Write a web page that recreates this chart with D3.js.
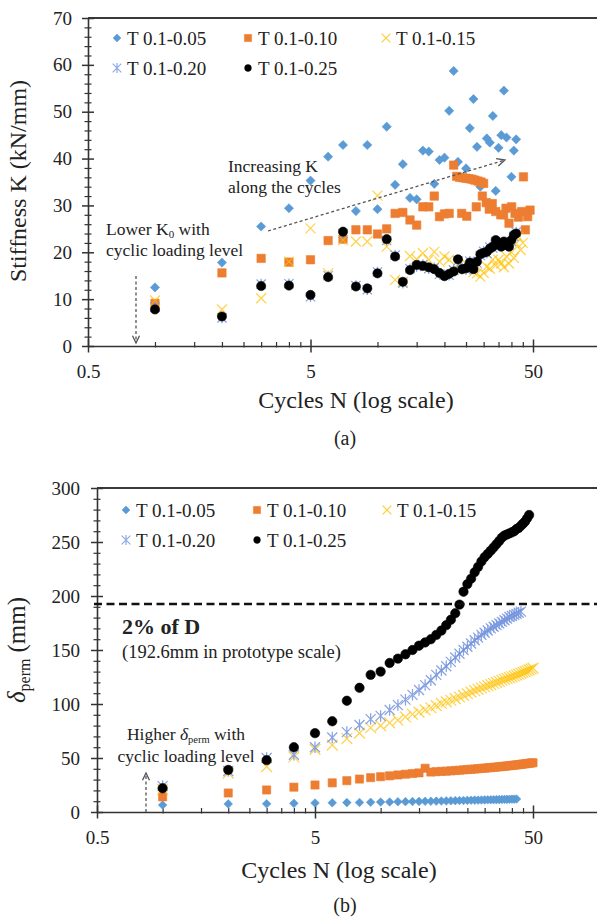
<!DOCTYPE html>
<html>
<head>
<meta charset="utf-8">
<script src="https://cdn.jsdelivr.net/npm/d3@7"></script>
<style>
  body { margin: 0; background: #fff; }
  svg { display: block; }
  text { font-family: "Liberation Serif", "Times New Roman", serif; fill: #222; }
</style>
</head>
<body>
<svg id="chart" width="597" height="921"></svg>
<script>
// ---------- data ----------
const seriesNames = ["T 0.1-0.05", "T 0.1-0.10", "T 0.1-0.15", "T 0.1-0.20", "T 0.1-0.25"];
const xTickValues = [0.5, 5, 50];

// (a) stiffness K (kN/mm) against cycle number
const kCycles005 = [1,2,3,4,5,6,7,8,9,10,11,12,13,14,15,16,17,18,19,20,21,22,23,25,26,27,28,29,31,32,33,34,35,36,37,38,40,41,42];
const kValues005 = [12.5,17.8,25.5,29.4,35.3,40.4,42.9,28.8,42.9,29.2,46.8,34.4,38.8,31.6,31.3,41.7,41.5,34.6,39.7,40.2,50.2,58.7,39.3,37.9,46.5,52.7,42.5,34.0,44.3,43.4,49.1,33.1,42.3,45.0,54.5,44.5,36.1,41.7,44.1];
const kCycles010 = [1,2,3,4,5,6,7,8,9,10,11,12,13,14,15,16,17,18,19,20,21,22,22.7,23.4,23.9,24.2,25,25.2,25.8,26.6,27.4,27.8,28.3,29.2,29.6,30,30.8,31.8,32.8,34,35.8,36.9,37.8,39,40.1,41.5,43,44.5,45.3,46.2,47.3,48.5];
const kValues010 = [9.1,15.6,18.7,17.9,18.4,22.5,22.8,24.8,24.8,23.9,25.0,28.3,28.5,26.9,25.8,29.7,29.7,32.0,27.6,28.2,28.3,38.6,36.2,36.0,28.3,35.9,35.8,27.7,35.7,35.6,35.4,29.7,35.2,35.0,32.0,34.7,30.6,29.2,30.4,28.7,28.0,28.0,29.4,26.2,29.7,28.3,27.5,28.7,36.1,24.8,27.6,29.0];
const kValues015 = [9.7,7.8,10.2,18.0,25.1,15.5,22.6,22.3,22.3,32.1,21.2,14.1,13.7,19.2,18.5,19.8,18.4,20.1,18.0,19.1,18.4,16.2,17.5,17.0,17.6,16.5,15.8,15.5,14.8,15.6,16.9,16.5,18.4,17.2,18.4,17.6,16.8,19.1,17.6,20.0,18.8,21.9,23.3,20.5,22.0];
const kValues020 = [8.3,6.0,13.2,13.3,10.5,15.0,24.0,12.9,12.0,15.8,22.5,19.4,13.4,16.5,17.0,17.4,16.5,16.7,15.3,15.2,15.1,16.2,18.2,16.7,16.3,18.1,16.7,17.7,19.3,20.2,19.8,21.1,20.9,22.3,22.1,21.5,22.0,21.9,21.5,22.3,23.4,24.3];
const kValues025 = [7.8,6.3,12.8,12.9,10.9,14.7,24.4,12.7,12.3,15.5,22.8,19.1,13.7,16.2,17.3,17.1,16.8,16.4,15.6,14.9,15.4,15.9,18.5,16.4,16.6,17.8,16.4,18.0,19.6,19.9,20.1,20.8,21.2,22.6,21.8,21.2,22.3,21.6,21.2,22.6,23.7,24.0];

// (b) permanent displacement (mm), one value per cycle starting at N = 1
const dValues005 = [6.5,7.5,7.6,8.0,8.3,8.5,8.7,8.8,9.0,9.2,9.3,9.5,9.6,9.7,9.8,9.9,10.0,10.1,10.2,10.3,10.4,10.5,10.6,10.7,10.8,10.9,11.0,11.0,11.1,11.2,11.3,11.3,11.4,11.5,11.5,11.6,11.7,11.7,11.8,11.9,11.9,12.0];
const dValues010 = [14,17.6,20.4,23,25,27,29,30.5,31.8,32.7,33.5,34.3,35,35.6,36.2,40.5,37.0,37.3,37.6,37.8,38.1,38.4,38.7,39.0,39.3,39.5,39.8,40.1,40.4,40.6,40.9,41.1,41.4,41.6,41.9,42.1,42.4,42.6,42.9,43.1,43.4,43.6,43.9,44.1,44.4,44.6,44.9,45.1,45.4,45.6];
const dValues015 = [21,36,42,51,58,62,68,73,78,80,82.5,85,88,90.5,92.5,94.5,96.5,98.5,100.5,102,103.5,105,106.5,108,109.5,111,112.3,113.6,114.8,116,117,118,119,120,121,122,122.8,123.6,124.4,125.2,126,126.8,127.6,128.4,129.2,130,130.8,131.6,132.4,133.2];
const dValues020 = [24,38,50,53,60,69,74,80.5,86,89,94.5,99,104,108.5,113,117.5,122,127,131,135,139,143,146.5,150,153,156,159,161.5,164,166,168,170,171.5,173,174.5,176,177.5,179,180.5,181.5,182.5,183.5,184.5,185.5];
const dValues025 = [22,39,48,60,73,84,103,115,127,130,138,142,146,150,154,157,160,164,168,173,178,184,192,204,211,216,222,227,232,236,239,242,245,248,251,254,256,257,258,259,260,262,263,265,267,269,272,275];

const prototypeLimit = 192.6;   // 2% of D, prototype scale (mm)

// ---------- styling ----------
const colors = ["#5B9BD5", "#ED7D31", "#FFC000", "#7393DD", "#000000"];
const shapes = ["diamond", "square", "cross", "star", "circle"];
const axisColor = "#333";

const svg = d3.select("#chart");

function markerPath(shape, r) {
  switch (shape) {
    case "diamond": return `M0,${-r}L${r},0L0,${r}L${-r},0Z`;
    case "square":  return `M${-r},${-r}H${r}V${r}H${-r}Z`;
    case "cross":   return `M${-r},${-r}L${r},${r}M${-r},${r}L${r},${-r}`;
    case "star":    return `M${-r},${-r}L${r},${r}M${-r},${r}L${r},${-r}M0,${-r * 1.15}L0,${r * 1.15}`;
    default:        return d3.arc()({innerRadius: 0, outerRadius: r, startAngle: 0, endAngle: 2 * Math.PI});
  }
}

function drawMarkers(g, data, x, y, idx, r) {
  const shape = shapes[idx], col = colors[idx];
  const line = shape === "cross" || shape === "star";
  g.append("g").selectAll("path").data(data).join("path")
    .attr("transform", d => `translate(${x(d[0])},${y(d[1])})`)
    .attr("d", markerPath(shape, r))
    .attr("fill", line ? "none" : col)
    .attr("stroke", col)
    .attr("stroke-width", line ? 1.25 : 0.6)
    .attr("stroke-opacity", shape === "cross" ? 0.7 : line ? 0.85 : 1);
}

function pairs(cycles, values) { return values.map((v, i) => [cycles[i], v]); }
function perCycle(values) { return values.map((v, i) => [i + 1, v]); }

function minorLogTicks() {
  const t = [];
  [0.5, 5, 50].forEach(b => { for (let k = 2; k <= 9; k++) t.push(+(b * k).toPrecision(6)); });
  return t;
}

function drawAxes(g, x, y, yMax, yMajor, yMinor, yPad) {
  const [x0] = x.range();
  const yTop = y(yMax), yBot = y(0);
  // frame line along the top of the plot area
  g.append("line").attr("x1", x0).attr("x2", 597).attr("y1", yTop).attr("y2", yTop)
    .attr("stroke", "#3a3a3a").attr("stroke-width", 2.2);

  // y axis: minor then major ticks, crossing the axis line
  const yMinorAxis = g.append("g").attr("transform", `translate(${x0},0)`)
    .call(d3.axisLeft(y).tickValues(yMinor).tickFormat("").tickSize(3.5).tickSizeOuter(0));
  yMinorAxis.select(".domain").remove();
  yMinorAxis.selectAll(".tick line").attr("x1", 3.5).attr("stroke", axisColor).attr("stroke-width", 1.2);

  const yAxis = g.append("g").attr("transform", `translate(${x0},0)`)
    .call(d3.axisLeft(y).tickValues(yMajor).tickFormat(d => String(d)).tickSize(6).tickPadding(yPad).tickSizeOuter(0));
  yAxis.select(".domain").attr("stroke", axisColor).attr("stroke-width", 1.6);
  yAxis.selectAll(".tick line").attr("x1", 6).attr("stroke", axisColor).attr("stroke-width", 1.5);
  yAxis.selectAll(".tick text").attr("font-size", 19).attr("fill", "#222")
    .style("font-family", '"Liberation Serif", "Times New Roman", serif');

  // x axis (log): minor then major ticks
  const xMinorAxis = g.append("g").attr("transform", `translate(0,${yBot})`)
    .call(d3.axisBottom(x).tickValues(minorLogTicks()).tickFormat("").tickSize(1.5).tickSizeOuter(0));
  xMinorAxis.select(".domain").remove();
  xMinorAxis.selectAll(".tick line").attr("y1", -4).attr("stroke", axisColor).attr("stroke-width", 1.2);

  const xAxis = g.append("g").attr("transform", `translate(0,${yBot})`)
    .call(d3.axisBottom(x).tickValues(xTickValues).tickFormat(d => String(d)).tickSize(6.5).tickPadding(12).tickSizeOuter(0));
  xAxis.select(".domain").attr("stroke", axisColor).attr("stroke-width", 1.6);
  xAxis.selectAll(".tick line").attr("y1", -6.5).attr("stroke", axisColor).attr("stroke-width", 1.5);
  xAxis.selectAll(".tick text").attr("font-size", 19).attr("fill", "#222")
    .style("font-family", '"Liberation Serif", "Times New Roman", serif');
}

function drawLegend(g, pos, dx) {
  seriesNames.forEach((name, i) => {
    const [mx, my] = pos[i];
    const shape = shapes[i], col = colors[i];
    const line = shape === "cross" || shape === "star";
    const r = shape === "circle" ? 3.4 : shape === "square" ? 3.6 : shape === "diamond" ? 4 : 4.3;
    g.append("path").attr("transform", `translate(${mx},${my})`)
      .attr("d", markerPath(shape, r))
      .attr("fill", line ? "none" : col).attr("stroke", col)
      .attr("stroke-width", line ? 1.2 : 0.5).attr("stroke-opacity", line ? 0.8 : 1);
    g.append("text").attr("x", mx + dx).attr("y", my + 6.5).attr("font-size", 19).text(name);
  });
}

function dashedArrow(g, x1, y1, x2, y2, head) {
  g.append("line").attr("x1", x1).attr("y1", y1).attr("x2", x2).attr("y2", y2)
    .attr("stroke", "#555").attr("stroke-width", 1.3).attr("stroke-dasharray", "3,2.5");
  const a = Math.atan2(y2 - y1, x2 - x1), s = 0.45;
  const p1 = [x2 - head * Math.cos(a - s), y2 - head * Math.sin(a - s)];
  const p2 = [x2 - head * Math.cos(a + s), y2 - head * Math.sin(a + s)];
  g.append("path").attr("d", `M${p1}L${x2},${y2}L${p2}`)
    .attr("fill", "none").attr("stroke", "#555").attr("stroke-width", 1.3);
}

// ---------- panel (a): stiffness ----------
const xA = d3.scaleLog().domain([0.5, 500]).range([88, 88 + 3 * 222.5]);
const yA = d3.scaleLinear().domain([0, 70]).range([346, 18]);
const gA = svg.append("g");

drawAxes(gA, xA, yA, 70, d3.range(0, 71, 10), d3.range(0, 71, 2).filter(v => v % 10 !== 0), 10);

drawMarkers(gA, pairs(kCycles005, kValues005), xA, yA, 0, 4.6);
drawMarkers(gA, pairs(kCycles010, kValues010), xA, yA, 1, 4.2);
drawMarkers(gA, perCycle(kValues015), xA, yA, 2, 5);
drawMarkers(gA, perCycle(kValues020), xA, yA, 3, 4.6);
drawMarkers(gA, perCycle(kValues025), xA, yA, 4, 4.6);

drawLegend(gA, [[117, 38], [248, 38], [386, 38], [117, 68], [248, 68]], 10);

// annotations
gA.append("text").attr("x", 228).attr("y", 172).attr("font-size", 17.5).text("Increasing K");
gA.append("text").attr("x", 228).attr("y", 193).attr("font-size", 17.5).text("along the cycles");
dashedArrow(gA, 268, 231, 505, 160, 9);

const lowK = gA.append("text").attr("x", 106).attr("y", 235).attr("font-size", 17.5);
lowK.append("tspan").text("Lower K");
lowK.append("tspan").attr("font-size", 11).attr("dy", 3).text("0");
lowK.append("tspan").attr("dy", -3).text(" with");
gA.append("text").attr("x", 106).attr("y", 256).attr("font-size", 17.5).text("cyclic loading level");
dashedArrow(gA, 136, 276, 136, 343, 8);

gA.append("text").attr("transform", "translate(26,181) rotate(-90)")
  .attr("text-anchor", "middle").attr("font-size", 24).text("Stiffness K (kN/mm)");
gA.append("text").attr("x", 356).attr("y", 408).attr("text-anchor", "middle")
  .attr("font-size", 24).text("Cycles N (log scale)");
gA.append("text").attr("x", 345).attr("y", 445).attr("text-anchor", "middle")
  .attr("font-size", 20).text("(a)");

// ---------- panel (b): permanent displacement ----------
const xB = d3.scaleLog().domain([0.5, 500]).range([97, 97 + 3 * 218]);
const yB = d3.scaleLinear().domain([0, 300]).range([812, 488]);
const gB = svg.append("g");

drawAxes(gB, xB, yB, 300, d3.range(0, 301, 50), d3.range(0, 301, 10).filter(v => v % 50 !== 0), 11);

drawMarkers(gB, perCycle(dValues005), xB, yB, 0, 4.3);
drawMarkers(gB, perCycle(dValues010), xB, yB, 1, 4.1);
drawMarkers(gB, perCycle(dValues015), xB, yB, 2, 5.4);
drawMarkers(gB, perCycle(dValues020), xB, yB, 3, 5);
drawMarkers(gB, perCycle(dValues025), xB, yB, 4, 4.7);

// 2% of D threshold
gB.append("line").attr("x1", xB.range()[0] - 3).attr("x2", 597)
  .attr("y1", yB(prototypeLimit)).attr("y2", yB(prototypeLimit))
  .attr("stroke", "#111").attr("stroke-width", 2.6).attr("stroke-dasharray", "8,4.5");
gB.append("text").attr("x", 122).attr("y", 634).attr("font-size", 22).attr("font-weight", "bold").text("2% of D");
gB.append("text").attr("x", 122).attr("y", 658).attr("font-size", 18.5).text("(192.6mm in prototype scale)");

drawLegend(gB, [[126, 510], [257, 510], [387, 510], [126, 540], [257, 540]], 10);

const hi = gB.append("text").attr("x", 186).attr("y", 740).attr("font-size", 17.5).attr("text-anchor", "middle");
hi.append("tspan").text("Higher ");
hi.append("tspan").attr("font-style", "italic").text("δ");
hi.append("tspan").attr("font-size", 10.5).attr("dy", 3).text("perm");
hi.append("tspan").attr("dy", -3).text(" with");
gB.append("text").attr("x", 186).attr("y", 762).attr("font-size", 17.5).attr("text-anchor", "middle")
  .text("cyclic loading level");
dashedArrow(gB, 146, 812, 146, 773, 8);

const yl = gB.append("text").attr("transform", "translate(25,650) rotate(-90)")
  .attr("text-anchor", "middle").attr("font-size", 25);
yl.append("tspan").attr("font-style", "italic").text("δ");
yl.append("tspan").attr("font-size", 16).attr("dy", 5).text("perm");
yl.append("tspan").attr("dy", -5).attr("dx", 6).text("(mm)");

gB.append("text").attr("x", 339).attr("y", 878).attr("text-anchor", "middle")
  .attr("font-size", 24).text("Cycles N (log scale)");
gB.append("text").attr("x", 345).attr("y", 912).attr("text-anchor", "middle")
  .attr("font-size", 20).text("(b)");
</script>
</body>
</html>
